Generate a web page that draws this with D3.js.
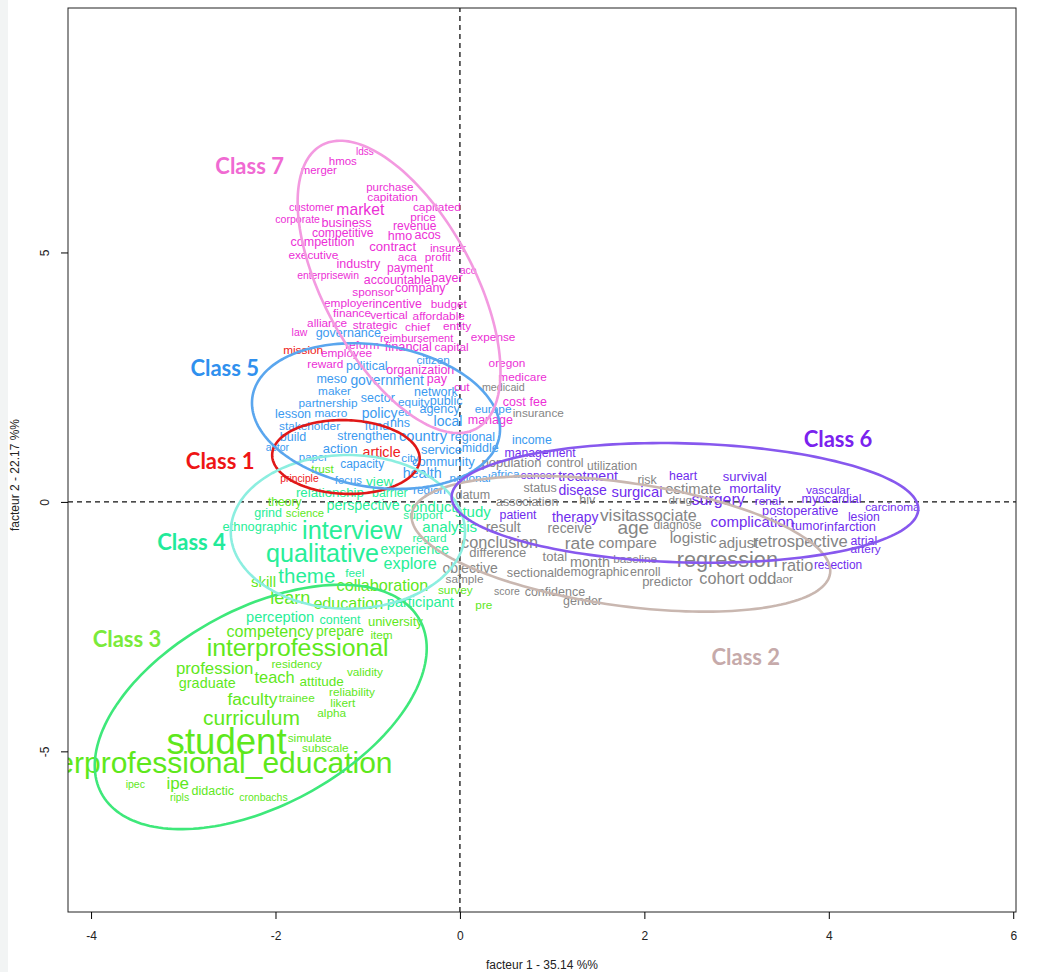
<!DOCTYPE html>
<html>
<head>
<meta charset="utf-8">
<script src="https://cdn.jsdelivr.net/npm/d3@7"></script>
<style>
  body { margin: 0; background: #fff; }
  svg { display: block; }
  .word { font-family: "Liberation Sans", Arial, sans-serif; }
  .axis text, .title { font-family: "Liberation Sans Narrow", "Liberation Sans", Arial, sans-serif; font-size: 12px; fill: #222; }
  .cls { font-family: Lato, "Open Sans", sans-serif; font-weight: bold; font-size: 22px; }
</style>
</head>
<body>
<svg id="chart" width="1043" height="972"></svg>
<script>
// axes
const xTicks = [-4, -2, 0, 2, 4, 6];
const yTicks = [-5, 0, 5];
const xDomain = [-4.25, 6.03];
const yDomain = [-8.22, 9.9];
const xTitle = 'facteur  1  - 35.14 %%';
const yTitle = 'facteur  2  - 22.17 %%';

// classes
const classNames = ['Class 1', 'Class 2', 'Class 3', 'Class 4', 'Class 5', 'Class 6', 'Class 7'];
const labelX = [-2.60, 3.10, -3.61, -2.91, -2.55, 4.10, -2.28];
const labelY = [0.82, -3.09, -2.73, -0.80, 2.69, 1.28, 6.75];

// ellipse per class: centre, spread on each factor, correlation
const ellipseCx = [-1.236, 1.746, -2.16, -1.215, -0.91, 2.44, -0.66];
const ellipseCy = [0.90, -0.84, -4.11, -0.60, 1.72, -0.02, 4.31];
const ellipseSx = [0.80, 2.27, 1.80, 1.27, 1.345, 2.53, 1.10];
const ellipseSy = [0.74, 1.36, 2.45, 1.54, 1.46, 1.20, 2.93];
const ellipseR = [-0.05, -0.40, 0.48, 0.0, -0.18, -0.10, -0.58];

// words: [form, factor 1, factor 2, weight]
const words1 = [
  ['mission', -1.70, 3.05, 3.8], ['article', -0.85, 1.00, 6.3], ['principle', -1.74, 0.46, 2.3]
];

const words2 = [
  ['medicaid', 0.47, 2.30, 2.7], ['insurance', 0.85, 1.78, 3.8], ['population', 0.56, 0.78, 5],
  ['control', 1.14, 0.78, 4.4], ['utilization', 1.65, 0.72, 4], ['risk', 2.03, 0.44, 4.5],
  ['status', 0.87, 0.28, 4.5], ['estimate', 2.53, 0.26, 6.8], ['datum', 0.14, 0.14, 4.5],
  ['association', 0.73, 0.00, 4.5], ['hiv', 1.38, 0.04, 4.5], ['drug', 2.39, 0.04, 3.8],
  ['visit', 1.68, -0.26, 9.4], ['associate', 2.20, -0.26, 8.1], ['result', 0.47, -0.50, 6.3],
  ['receive', 1.19, -0.54, 5.8], ['age', 1.88, -0.52, 11], ['diagnose', 2.36, -0.46, 3.9],
  ['conclusion', 0.43, -0.80, 8.3], ['rate', 1.30, -0.82, 9.4], ['compare', 1.82, -0.82, 7],
  ['logistic', 2.53, -0.72, 7.4], ['adjust', 3.02, -0.82, 7], ['retrospective', 3.69, -0.80, 8.6],
  ['difference', 0.41, -1.02, 5], ['total', 1.03, -1.10, 5], ['month', 1.41, -1.20, 6.4],
  ['baseline', 1.90, -1.14, 3.8], ['regression', 2.90, -1.16, 13.7], ['ratio', 3.66, -1.26, 8.3],
  ['objective', 0.11, -1.32, 6], ['sectional', 0.78, -1.42, 4.7], ['demographic', 1.44, -1.40, 4.5],
  ['enroll', 2.01, -1.40, 4.5], ['cohort', 2.84, -1.52, 8.2], ['odd', 3.28, -1.54, 9],
  ['aor', 3.52, -1.54, 3.8], ['sample', 0.05, -1.54, 3.8], ['predictor', 2.25, -1.60, 5],
  ['score', 0.51, -1.78, 2.5], ['confidence', 1.03, -1.80, 4.5], ['gender', 1.33, -1.98, 4.5]
];

const words3 = [
  ['trust', -1.49, 0.66, 3.7], ['theory', -1.90, 0.00, 4], ['science', -1.68, -0.22, 3.3],
  ['skill', -2.13, -1.60, 7], ['collaboration', -0.84, -1.66, 8.2], ['learn', -1.84, -1.92, 10],
  ['education', -1.21, -2.02, 8.1], ['survey', -0.05, -1.76, 3.8], ['pre', 0.26, -2.06, 3.8],
  ['university', -0.70, -2.40, 5], ['competency', -2.06, -2.59, 8.1], ['prepare', -1.30, -2.59, 5.9],
  ['item', -0.85, -2.67, 3.8], ['interprofessional', -1.76, -2.91, 16.8], ['profession', -2.66, -3.33, 8.8],
  ['residency', -1.77, -3.25, 3.8], ['validity', -1.03, -3.41, 3.8], ['teach', -2.01, -3.51, 8.4],
  ['graduate', -2.74, -3.63, 6.4], ['attitude', -1.50, -3.59, 5.5], ['reliability', -1.17, -3.81, 3.8],
  ['faculty', -2.25, -3.95, 9.3], ['trainee', -1.77, -3.93, 3.8], ['likert', -1.27, -4.03, 3.8],
  ['alpha', -1.39, -4.23, 3.8], ['curriculum', -2.26, -4.33, 13], ['student', -2.53, -4.81, 28.6],
  ['simulate', -1.63, -4.73, 3.8], ['subscale', -1.46, -4.93, 3.8],
  ['interprofessional_education', -2.72, -5.23, 22], ['ipec', -3.52, -5.65, 2.5], ['ipe', -3.06, -5.65, 9],
  ['ripls', -3.04, -5.91, 2.5], ['didactic', -2.68, -5.79, 4.5], ['cronbachs', -2.13, -5.91, 2.5]
];

const words4 = [
  ['view', -0.87, 0.40, 5.7], ['relationship', -1.41, 0.18, 5.3], ['barrier', -0.76, 0.18, 4.3],
  ['perspective', -1.05, -0.06, 6.3], ['conduct', -0.33, -0.10, 6.8], ['study', 0.14, -0.20, 7],
  ['grind', -2.08, -0.22, 4.5], ['support', -0.40, -0.26, 3.8], ['ethnographic', -2.17, -0.50, 4.9],
  ['interview', -1.17, -0.56, 17.3], ['analysis', -0.11, -0.50, 7.2], ['regard', -0.33, -0.72, 3.8],
  ['qualitative', -1.49, -1.02, 17.1], ['experience', -0.49, -0.94, 6], ['explore', -0.54, -1.22, 8.2],
  ['theme', -1.66, -1.48, 12.5], ['feel', -1.14, -1.42, 3.8], ['participant', -0.43, -2.00, 6.5],
  ['perception', -1.95, -2.30, 6.6], ['content', -1.30, -2.36, 4.5]
];

const words5 = [
  ['governance', -1.21, 3.39, 4.5], ['citizen', -0.29, 2.85, 3.8], ['political', -1.01, 2.73, 4.5],
  ['meso', -1.39, 2.46, 4.5], ['government', -0.79, 2.44, 5.9], ['maker', -1.36, 2.22, 3.8],
  ['network', -0.26, 2.20, 4.5], ['sector', -0.89, 2.08, 4.5], ['partnership', -1.43, 1.98, 3.8],
  ['equity', -0.50, 2.00, 3.8], ['public', -0.15, 2.02, 4.5], ['lesson', -1.81, 1.76, 4.5],
  ['macro', -1.40, 1.78, 3.8], ['policy', -0.87, 1.78, 6], ['eu', -0.60, 1.80, 3.8],
  ['agency', -0.22, 1.86, 4.5], ['europe', 0.36, 1.86, 3.8], ['stakeholder', -1.63, 1.52, 3.8],
  ['fund', -0.90, 1.52, 4.5], ['nhs', -0.65, 1.58, 4.5], ['local', -0.13, 1.62, 6],
  ['build', -1.81, 1.30, 4.5], ['strengthen', -1.01, 1.32, 4.5], ['country', -0.40, 1.32, 6.7],
  ['regional', 0.14, 1.30, 4.5], ['income', 0.78, 1.24, 4.4], ['actor', -1.98, 1.10, 2.5],
  ['action', -1.30, 1.08, 5], ['service', -0.20, 1.06, 5], ['middle', 0.22, 1.08, 4.5],
  ['paper', -1.59, 0.90, 3.3], ['capacity', -1.06, 0.76, 4], ['city', -0.54, 0.88, 3.8],
  ['community', -0.18, 0.80, 5], ['health', -0.41, 0.58, 6.3], ['focus', -1.21, 0.44, 3.3],
  ['national', 0.11, 0.48, 3.8], ['region', -0.33, 0.24, 3.8], ['africa', 0.49, 0.56, 3.8]
];

const words6 = [
  ['management', 0.87, 0.98, 4.2], ['cancer', 0.85, 0.54, 3.8], ['treatment', 1.39, 0.52, 6.2],
  ['heart', 2.42, 0.52, 4.3], ['disease', 1.33, 0.24, 6], ['surgical', 1.92, 0.20, 6.8],
  ['survival', 3.09, 0.50, 5], ['mortality', 3.20, 0.26, 5.7], ['vascular', 3.99, 0.24, 3.8],
  ['surgery', 2.80, 0.04, 8], ['renal', 3.34, 0.02, 3.8], ['myocardial', 4.03, 0.06, 4.4],
  ['carcinoma', 4.69, -0.10, 3.8], ['postoperative', 3.69, -0.18, 4.7], ['lesion', 4.38, -0.30, 4.2],
  ['complication', 3.17, -0.40, 7], ['tumor', 3.77, -0.48, 4.5], ['infarction', 4.23, -0.50, 4.8],
  ['atrial', 4.38, -0.78, 4.3], ['artery', 4.40, -0.94, 3.8], ['resection', 4.10, -1.26, 3.9],
  ['patient', 0.63, -0.26, 4.3], ['therapy', 1.25, -0.30, 5.9]
];

const words7 = [
  ['ldss', -1.03, 7.03, 2], ['hmos', -1.27, 6.83, 3.5], ['merger', -1.53, 6.65, 3.4],
  ['purchase', -0.76, 6.31, 3.5], ['capitation', -0.73, 6.11, 3.8], ['customer', -1.61, 5.91, 2.9],
  ['market', -1.08, 5.87, 7.7], ['capitated', -0.25, 5.91, 3.8], ['corporate', -1.76, 5.67, 2.6],
  ['business', -1.23, 5.59, 4.7], ['price', -0.40, 5.71, 3.8], ['revenue', -0.49, 5.53, 4],
  ['competitive', -1.27, 5.39, 4.2], ['hmo', -0.65, 5.33, 4.5], ['acos', -0.35, 5.35, 4.5],
  ['competition', -1.49, 5.21, 4.5], ['contract', -0.73, 5.11, 5.2], ['insurer', -0.13, 5.09, 3.8],
  ['executive', -1.59, 4.95, 3.8], ['aca', -0.57, 4.91, 3.8], ['profit', -0.24, 4.91, 3.8],
  ['industry', -1.10, 4.77, 4.5], ['payment', -0.54, 4.69, 4], ['aco', 0.09, 4.65, 2.5],
  ['enterprisewin', -1.43, 4.53, 2.4], ['accountable', -0.68, 4.45, 4.4], ['payer', -0.14, 4.49, 4.5],
  ['company', -0.43, 4.29, 4.5], ['sponsor', -0.94, 4.21, 3.8], ['employer', -1.21, 3.99, 3.8],
  ['incentive', -0.68, 3.97, 4.5], ['budget', -0.12, 3.97, 3.8], ['finance', -1.17, 3.79, 3.8],
  ['vertical', -0.77, 3.75, 3.8], ['affordable', -0.23, 3.73, 3.8], ['alliance', -1.44, 3.59, 3.8],
  ['strategic', -0.92, 3.55, 3.8], ['chief', -0.46, 3.51, 3.8], ['entity', -0.03, 3.53, 3.8],
  ['law', -1.74, 3.41, 2.5], ['expense', 0.36, 3.31, 3.8], ['reimbursement', -0.47, 3.29, 3],
  ['reform', -1.06, 3.15, 3.8], ['employee', -1.23, 2.99, 3.8], ['financial', -0.56, 3.11, 4.8],
  ['capital', -0.09, 3.11, 3.8], ['oregon', 0.51, 2.79, 3.8], ['reward', -1.46, 2.77, 3.8],
  ['organization', -0.43, 2.65, 4.5], ['medicare', 0.68, 2.51, 3.8], ['pay', -0.25, 2.46, 4.5],
  ['cut', 0.02, 2.30, 3.8], ['cost', 0.59, 2.00, 4.5], ['fee', 0.85, 2.00, 4.5], ['manage', 0.33, 1.64, 4.5]
];

const wordsByClass = [words1, words2, words3, words4, words5, words6, words7];

const wordColors = ['#ee2020', '#858585', '#5ee81c', '#28ee98', '#3b9af0', '#6f2cee', '#ec2fd6'];
const ellipseColors = ['#e01818', '#c9b7b0', '#3ee87a', '#8ceee0', '#5aa6ee', '#8758ee', '#f39ae0'];
const labelColors = ['#ee1515', '#c6aaaa', '#7aea3a', '#22ea9a', '#2f90ee', '#7a22ee', '#f06ad2'];

const width = 1043, height = 972;
const margin = {top: 8, right: 27, bottom: 60, left: 68};

const svg = d3.select('#chart');
svg.append('rect').attr('width', width).attr('height', height).attr('fill', '#fff');
svg.append('rect').attr('width', 8).attr('height', height).attr('fill', '#f2f4f4');

const x = d3.scaleLinear().domain(xDomain).range([margin.left, width - margin.right]);
const y = d3.scaleLinear().domain(yDomain).range([height - margin.bottom, margin.top]);
const fontScale = d3.scaleLinear().domain([0, 30]).range([8, 38]);

svg.append('clipPath').attr('id', 'plot')
  .append('rect')
    .attr('x', x.range()[0]).attr('y', y.range()[1])
    .attr('width', x.range()[1] - x.range()[0])
    .attr('height', y.range()[0] - y.range()[1]);

const plot = svg.append('g').attr('clip-path', 'url(#plot)');

// dashed origin lines
plot.append('line')
    .attr('x1', x(0)).attr('x2', x(0))
    .attr('y1', y.range()[0]).attr('y2', y.range()[1])
    .attr('stroke', '#111').attr('stroke-width', 1.3).attr('stroke-dasharray', '5,4');
plot.append('line')
    .attr('x1', x.range()[0]).attr('x2', x.range()[1])
    .attr('y1', y(0)).attr('y2', y(0))
    .attr('stroke', '#111').attr('stroke-width', 1.3).attr('stroke-dasharray', '5,4');

// words
wordsByClass.forEach((words, i) => {
  plot.append('g')
    .selectAll('text')
    .data(words)
    .join('text')
      .attr('class', 'word')
      .attr('x', d => x(d[1]))
      .attr('y', d => y(d[2]))
      .attr('font-size', d => fontScale(d[3]))
      .attr('fill', wordColors[i])
      .attr('text-anchor', 'middle')
      .attr('dominant-baseline', 'central')
      .text(d => d[0]);
});

// ellipses
const angles = d3.range(0, 360, 2).map(a => a * Math.PI / 180);
const line = d3.line()
    .x(p => x(p[0]))
    .y(p => y(p[1]))
    .curve(d3.curveLinearClosed);

classNames.forEach((name, i) => {
  const d = Math.acos(ellipseR[i]);
  const pts = angles.map(t => [
    ellipseCx[i] + ellipseSx[i] * Math.cos(t),
    ellipseCy[i] + ellipseSy[i] * Math.cos(t - d)
  ]);
  plot.append('path')
      .attr('d', line(pts))
      .attr('fill', 'none')
      .attr('stroke', ellipseColors[i])
      .attr('stroke-width', 2.6);
});

// class labels
svg.append('g')
  .selectAll('text')
  .data(classNames)
  .join('text')
    .attr('class', 'cls')
    .attr('x', (d, i) => x(labelX[i]))
    .attr('y', (d, i) => y(labelY[i]))
    .attr('fill', (d, i) => labelColors[i])
    .attr('text-anchor', 'middle')
    .attr('dominant-baseline', 'central')
    .text(d => d);

// box
svg.append('rect')
    .attr('x', x.range()[0]).attr('y', y.range()[1])
    .attr('width', x.range()[1] - x.range()[0])
    .attr('height', y.range()[0] - y.range()[1])
    .attr('fill', 'none').attr('stroke', '#222').attr('stroke-width', 1);

// plain hyphen for negatives, like R
const tickFmt = d => String(d);

const xAxis = svg.append('g')
    .attr('class', 'axis')
    .attr('transform', `translate(0,${y.range()[0]})`)
    .call(d3.axisBottom(x).tickValues(xTicks).tickSize(7).tickPadding(12).tickFormat(tickFmt));
xAxis.select('.domain').remove();

const yAxis = svg.append('g')
    .attr('class', 'axis')
    .attr('transform', `translate(${x.range()[0]},0)`)
    .call(d3.axisLeft(y).tickValues(yTicks).tickSize(7).tickFormat(tickFmt));
yAxis.select('.domain').remove();
// R style: labels parallel to the axis
yAxis.selectAll('text')
    .attr('transform', 'rotate(-90)')
    .attr('x', 0).attr('y', -23).attr('dy', null)
    .attr('text-anchor', 'middle')
    .attr('dominant-baseline', 'central');

svg.append('text')
    .attr('class', 'title')
    .attr('x', (x.range()[0] + x.range()[1]) / 2)
    .attr('y', 965)
    .attr('text-anchor', 'middle')
    .attr('dominant-baseline', 'central')
    .text(xTitle);

svg.append('text')
    .attr('class', 'title')
    .attr('transform', `translate(15,475) rotate(-90)`)
    .attr('text-anchor', 'middle')
    .attr('dominant-baseline', 'central')
    .text(yTitle);
</script>
</body>
</html>
